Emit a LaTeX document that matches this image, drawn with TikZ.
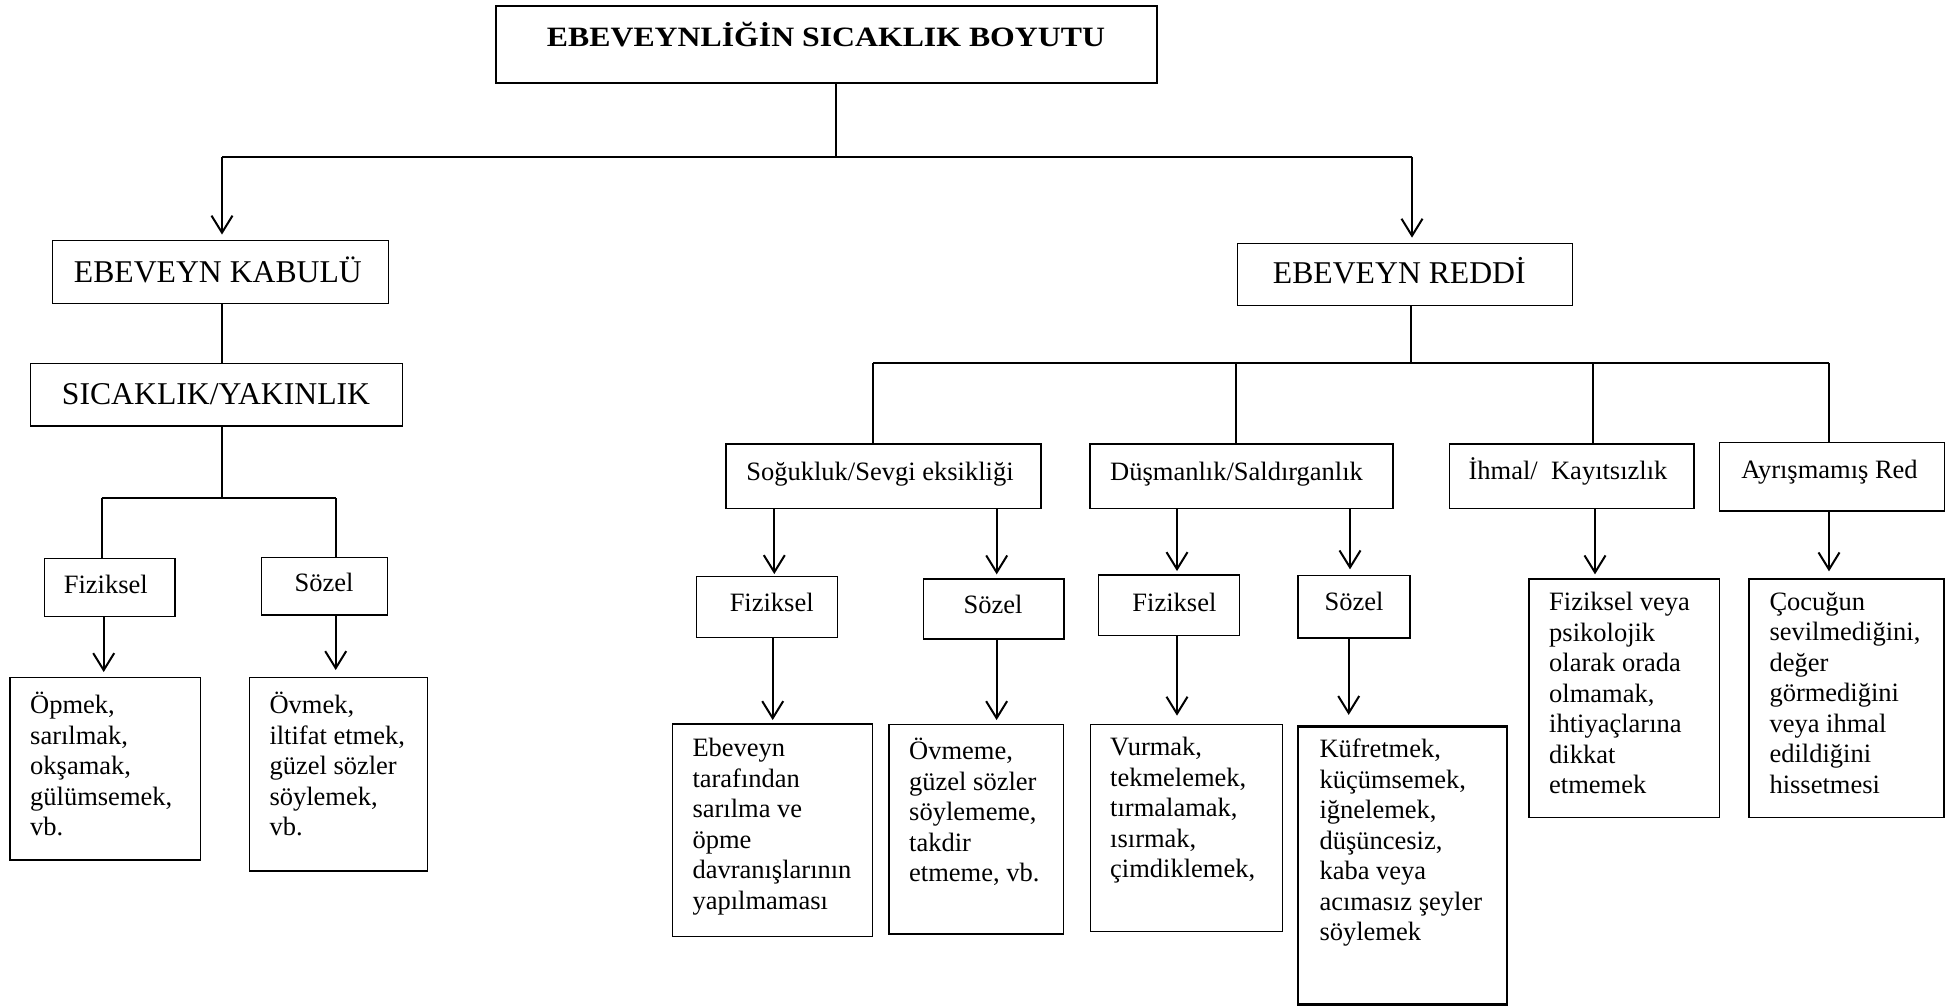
\documentclass[tikz,border=0pt]{standalone}
\usepackage{fontspec}
\usepackage{graphicx}
\setmainfont{Liberation Serif}
\usetikzlibrary{arrows.meta,fit,calc}
\begin{document}
\begin{tikzpicture}[x=1pt,y=-1pt,
  box/.style={draw=black, line width=1.3pt, inner sep=0pt},
  thickbox/.style={box, line width=2.2pt},
  lbl/.style={inner sep=0pt, anchor=base, font=\fontsize{26.5}{30.5}\selectfont},
  biglbl/.style={inner sep=0pt, anchor=base, font=\fontsize{31.7}{36}\selectfont},
  body/.style={inner sep=0pt, anchor=north west, align=left, font=\fontsize{26.5}{30.5}\selectfont, execute at begin node=\strut},
  conn/.style={line width=2pt},
  arr/.style={line width=2pt, -{Straight Barb[length=17pt,width=21pt,line width=2pt]}},
]
\fill[white] (0,0) rectangle (1953,1006);
\useasboundingbox (0,0) rectangle (1953,1006);

% ---- top levels
\node[thickbox, fit={(495.6,6) (1157.2,82.7)}] (top) {};
\node[inner sep=0pt, anchor=base, font=\fontsize{28}{32}\selectfont\bfseries] (topt) at (826,46.7) {\scalebox{1.135}[1]{EBEVEYNLİĞİN SICAKLIK BOYUTU}};

\node[box, fit={(52.7,240.7) (388.3,303.3)}] (kab) {};
\node[biglbl] (kabt) at (217.9,282.7) {EBEVEYN KABULÜ};
\node[box, fit={(30.7,363.3) (402.3,426)}] (sic) {};
\node[biglbl] (sict) at (216,404) {SICAKLIK/YAKINLIK};
\node[box, fit={(1237.7,243.3) (1572.7,305.3)}] (red) {};
\node[biglbl] (redt) at (1399.3,283.3) {EBEVEYN REDDİ};

% ---- left branch
\node[box, fit={(44.3,558.7) (175,616.7)}] (lf) {};
\node[lbl] (lft) at (105.8,593.3) {Fiziksel};
\node[box, fit={(261.3,557.3) (387.7,615)}] (ls) {};
\node[lbl] (lst) at (324,591.7) {Sözel};
\node[box, fit={(10,677.7) (200.7,860)}] (lfb) {};
\node[body] (lfbt) at (30,691.95) {Öpmek,\\sarılmak,\\okşamak,\\gülümsemek,\\vb.};
\node[box, fit={(249.3,677.7) (427.7,871)}] (lsb) {};
\node[body] (lsbt) at (269.3,691.95) {Övmek,\\iltifat etmek,\\güzel sözler\\söylemek,\\vb.};

% ---- right branch, level 3
\node[box, fit={(726,444) (1041,508.7)}] (sog) {};
\node[lbl] (sogt) at (880,480) {Soğukluk/Sevgi eksikliği};
\node[box, fit={(1090,444) (1393,508.7)}] (dus) {};
\node[lbl, anchor=base west] (dust) at (1110,480) {Düşmanlık/Saldırganlık};
\node[box, fit={(1449.5,444) (1694,508.7)}] (ihm) {};
\node[lbl] (ihmt) at (1568,479) {İhmal/\ \ Kayıtsızlık};
\node[box, fit={(1719.5,442.7) (1944.2,511)}] (ayr) {};
\node[lbl] (ayrt) at (1829.5,478) {Ayrışmamış Red};

% ---- level 4
\node[box, fit={(696.5,576.7) (837.2,637.3)}] (sf) {};
\node[lbl] (sft) at (771.7,611.7) {Fiziksel};
\node[box, fit={(923.7,579) (1064,639)}] (ss) {};
\node[lbl] (sst) at (993,613) {Sözel};
\node[box, fit={(1098.7,575) (1239.2,635.3)}] (df) {};
\node[lbl] (dft) at (1174.4,611) {Fiziksel};
\node[box, fit={(1298,575.5) (1410,638)}] (ds) {};
\node[lbl] (dst) at (1354,610.8) {Sözel};

% ---- level 5
\node[box, fit={(672.3,724) (872.7,936.3)}] (sfb) {};
\node[body] (sfbt) at (692.3,737.95) {Ebeveyn\\tarafından\\sarılma ve\\öpme\\davranışlarının\\yapılmaması};
\node[box, fit={(889,724.3) (1063.7,934)}] (ssb) {};
\node[body] (ssbt) at (909,737.95) {Övmeme,\\güzel sözler\\söylememe,\\takdir\\etmeme, vb.};
\node[box, fit={(1090.3,724.3) (1282.7,931.7)}] (dfb) {};
\node[body] (dfbt) at (1110,736.95) {Vurmak,\\tekmelemek,\\tırmalamak,\\ısırmak,\\çimdiklemek,};
\node[thickbox, fit={(1298.3,726.5) (1507,1004.5)}] (dsb) {};
\node[body] (dsbt) at (1319.3,738.65) {Küfretmek,\\küçümsemek,\\iğnelemek,\\düşüncesiz,\\kaba veya\\acımasız şeyler\\söylemek};
\node[box, fit={(1529,579) (1719.5,817.5)}] (ihb) {};
\node[body] (ihbt) at (1549,592.05) {Fiziksel veya\\psikolojik\\olarak orada\\olmamak,\\ihtiyaçlarına\\dikkat\\etmemek};
\node[box, fit={(1749,579) (1944,817.5)}] (ayb) {};
\node[body] (aybt) at (1769.3,592.05) {Çocuğun\\sevilmediğini,\\değer\\görmediğini\\veya ihmal\\edildiğini\\hissetmesi};

% ---- connectors, top
\coordinate (j0) at (835.8,156.7);
\coordinate (jl) at (222,156.7);
\coordinate (jr) at (1412,156.7);
\draw[conn] (top.south -| j0) -- (j0);
\draw[conn] (jl) -- (jr);
\draw[arr, shorten >=5.5pt] (jl) -- (kab.north -| jl);
\draw[arr, shorten >=5pt] (jr) -- (red.north -| jr);

% ---- left side
\draw[conn] (kab.south -| jl) -- (sic.north -| jl);
\coordinate (jsic) at (222,498.3);
\coordinate (jlf) at (101.7,498.3);
\coordinate (jls) at (335.7,498.3);
\draw[conn] (sic.south -| jsic) -- (jsic);
\draw[conn] (jlf) -- (jls);
\draw[conn] (jlf) -- (lf.north -| jlf);
\draw[conn] (jls) -- (ls.north -| jls);
\coordinate (alf) at (103.7,0);
\coordinate (als) at (335.7,0);
\draw[arr, shorten >=5pt] (lf.south -| alf) -- (lfb.north -| alf);
\draw[arr, shorten >=7pt] (ls.south -| als) -- (lsb.north -| als);

% ---- right side
\coordinate (jred) at (1411,363.3);
\coordinate (j1) at (873.3,363.3);
\coordinate (j2) at (1236,363.3);
\coordinate (j3) at (1593,363.3);
\coordinate (j4) at (1829,363.3);
\draw[conn] (red.south -| jred) -- (jred);
\draw[conn] (j1) -- (j4);
\draw[conn] (j1) -- (sog.north -| j1);
\draw[conn] (j2) -- (dus.north -| j2);
\draw[conn] (j3) -- (ihm.north -| j3);
\draw[conn] (j4) -- (ayr.north -| j4);

\coordinate (a1) at (774.3,0);
\coordinate (a2) at (996.7,0);
\coordinate (a3) at (1177,0);
\coordinate (a4) at (1350,0);
\coordinate (a5) at (1595,0);
\coordinate (a6) at (1829,0);
\draw[arr, shorten >=2pt] (sog.south -| a1) -- (sf.north -| a1);
\draw[arr, shorten >=4pt] (sog.south -| a2) -- (ss.north -| a2);
\draw[arr, shorten >=3.3pt] (dus.south -| a3) -- (df.north -| a3);
\draw[arr, shorten >=5.5pt] (dus.south -| a4) -- (ds.north -| a4);
\draw[arr, shorten >=4pt] (ihm.south -| a5) -- (ihb.north -| a5);
\draw[arr, shorten >=7pt] (ayr.south -| a6) -- (ayb.north -| a6);

\coordinate (b1) at (772.7,0);
\coordinate (b2) at (996.6,0);
\coordinate (b3) at (1177,0);
\coordinate (b4) at (1348.7,0);
\draw[arr, shorten >=3.3pt] (sf.south -| b1) -- (sfb.north -| b1);
\draw[arr, shorten >=3.6pt] (ss.south -| b2) -- (ssb.north -| b2);
\draw[arr, shorten >=8pt] (df.south -| b3) -- (dfb.north -| b3);
\draw[arr, shorten >=10.5pt] (ds.south -| b4) -- (dsb.north -| b4);
\end{tikzpicture}
\end{document}
